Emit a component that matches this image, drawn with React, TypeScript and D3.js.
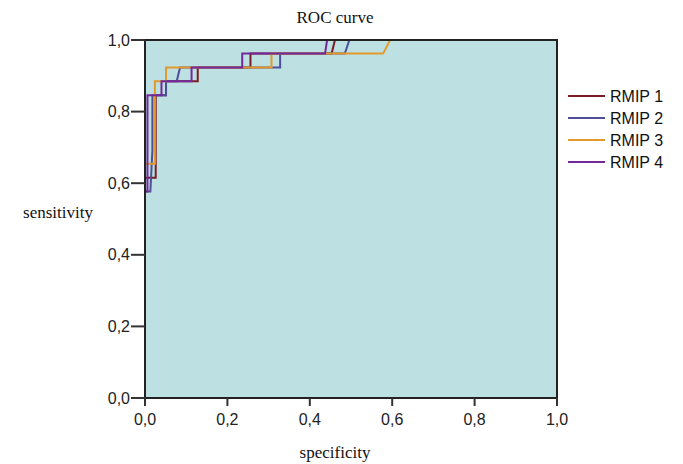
import React from 'react';
import * as d3 from 'd3';

type Pt = [number, number];

// ROC points: [1 - specificity, sensitivity]
const rmip1: Pt[] = [[0, 0], [0, 0.615], [0.026, 0.615], [0.026, 0.846], [0.051, 0.846], [0.051, 0.885], [0.128, 0.885], [0.128, 0.923], [0.256, 0.923], [0.256, 0.962], [0.453, 0.962], [0.461, 1], [1, 1]];
const rmip2: Pt[] = [[0, 0], [0, 0.577], [0.013, 0.577], [0.018, 0.692], [0.018, 0.846], [0.051, 0.846], [0.051, 0.885], [0.077, 0.885], [0.085, 0.923], [0.328, 0.923], [0.328, 0.962], [0.485, 0.962], [0.496, 1], [1, 1]];
const rmip3: Pt[] = [[0, 0], [0, 0.654], [0.024, 0.654], [0.024, 0.885], [0.051, 0.885], [0.051, 0.923], [0.307, 0.923], [0.307, 0.962], [0.578, 0.962], [0.595, 1], [1, 1]];
const rmip4: Pt[] = [[0, 0], [0, 0.577], [0.006, 0.577], [0.006, 0.846], [0.04, 0.846], [0.04, 0.885], [0.113, 0.885], [0.113, 0.923], [0.236, 0.923], [0.236, 0.962], [0.437, 0.962], [0.442, 1], [1, 1]];

const seriesNames = ['RMIP 1', 'RMIP 2', 'RMIP 3', 'RMIP 4'];
const seriesData = [rmip1, rmip2, rmip3, rmip4];
const seriesColors = ['#7b1c24', '#4e4f98', '#e39a2a', '#74299a'];

const xTicks = [0, 0.2, 0.4, 0.6, 0.8, 1.0];
const yTicks = [0, 0.2, 0.4, 0.6, 0.8, 1.0];

export default function App() {
  const width = 683;
  const height = 464;
  const margin = { top: 40, right: 126, bottom: 66, left: 145 };
  const innerW = width - margin.left - margin.right;
  const innerH = height - margin.top - margin.bottom;

  const x = d3.scaleLinear().domain([0, 1]).range([0, innerW]);
  const y = d3.scaleLinear().domain([0, 1]).range([innerH, 0]);
  const line = d3.line<Pt>().x((d) => x(d[0])).y((d) => y(d[1]));
  const fmt = (d: number) => d.toFixed(1).replace('.', ',');

  const sans = 'Arial, "Liberation Sans", sans-serif';
  const serif = '"Times New Roman", "Liberation Serif", serif';

  return (
    <svg width={width} height={height} style={{ position: 'absolute', left: 0, top: 0, background: '#fff' }}>
      <text x={335} y={23} textAnchor="middle" fontFamily={serif} fontSize={17} fill="#111">ROC curve</text>
      <g transform={`translate(${margin.left},${margin.top})`}>
        <rect x={0} y={0} width={innerW} height={innerH} fill="#bde0e2" />
        {seriesData.map((d, i) => (
          <path key={seriesNames[i]} d={line(d) || ''} fill="none" stroke={seriesColors[i]} strokeWidth={2} />
        ))}
        <rect x={0} y={0} width={innerW} height={innerH} fill="none" stroke="#222" strokeWidth={2} />
        {xTicks.map((t) => (
          <g key={'x' + t} transform={`translate(${x(t)},${innerH})`}>
            <line y1={0} y2={8} stroke="#333" strokeWidth={2} />
            <text y={27} textAnchor="middle" fontFamily={sans} fontSize={16} fill="#222">{fmt(t)}</text>
          </g>
        ))}
        {yTicks.map((t) => (
          <g key={'y' + t} transform={`translate(0,${y(t)})`}>
            <line x1={-14} x2={0} stroke="#333" strokeWidth={2} />
            <text x={-15} dy="0.35em" textAnchor="end" fontFamily={sans} fontSize={16} fill="#222">{fmt(t)}</text>
          </g>
        ))}
      </g>
      <text x={58} y={218} textAnchor="middle" fontFamily={serif} fontSize={17} fill="#111">sensitivity</text>
      <text x={335} y={458} textAnchor="middle" fontFamily={serif} fontSize={17} fill="#111">specificity</text>
      <g>
        {seriesNames.map((n, i) => (
          <g key={n} transform={`translate(568,${96 + i * 22})`}>
            <line x1={0} x2={37} stroke={seriesColors[i]} strokeWidth={2} />
            <text x={42} dy="0.35em" fontFamily={sans} fontSize={16} fill="#111">{n}</text>
          </g>
        ))}
      </g>
    </svg>
  );
}
